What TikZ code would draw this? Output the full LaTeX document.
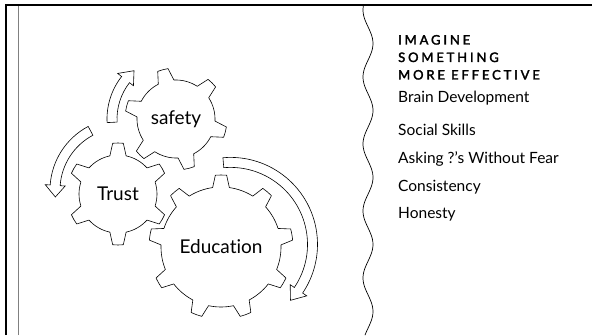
\documentclass[tikz,border=0pt]{standalone}
\usepackage{fontspec}
\setmainfont[Ligatures={TeX,NoCommon}]{Lato}
\newfontfamily\headfont[LetterSpace=22, FakeBold=2.5]{Lato}

% #1 centre, #2 teeth, #3 root radius, #4 tip radius, #5 first tooth, #6 half base angle, #7 half tip angle
\newcommand{\drawgear}[7]{%
  \draw[gearshape] ([shift={(#1)}] {#5-#6}:#3)
    \foreach \k [evaluate=\k as \a using #5+(\k-1)*360/#2] in {1,...,#2} {
      -- ([shift={(#1)}] {\a-#7}:#4) arc[start angle=\a-#7, end angle=\a+#7, radius=#4]
      -- ([shift={(#1)}] {\a+#6}:#3) arc[start angle=\a+#6, end angle=\a+360/#2-#6, radius=#3]
    } -- cycle;}

% #1 centre, #2 radius, #3 tail angle, #4 head base angle, #5 tip angle
\newcommand{\drawbent}[5]{%
  \draw[bentshape] ([shift={(#1)}] #3:{#2+5}) arc[start angle=#3, end angle=#4, radius=#2+5]
    -- ([shift={(#1)}] #4:{#2+10}) -- ([shift={(#1)}] #5:#2)
    -- ([shift={(#1)}] #4:{#2-10}) -- ([shift={(#1)}] #4:{#2-5})
    arc[start angle=#4, end angle=#3, radius=#2-5] -- cycle;}

\begin{document}
\begin{tikzpicture}[x=1pt, y=1pt, line cap=round, line join=round]
  \tikzset{
    gearshape/.style={draw, fill=white, line width=0.6pt},
    bentshape/.style={draw, fill=white, line width=0.6pt, line join=miter},
    gearlabel/.style={font=\fontsize{19}{21}\selectfont},
    heading/.style={anchor=base west, inner sep=0pt, font=\headfont\fontsize{13}{15}\selectfont},
    listitem/.style={anchor=base west, inner sep=0pt, font=\fontsize{15.5}{17}\selectfont}
  }
  \useasboundingbox (0,0) rectangle (592,335);

  % frame
  \draw[line width=2pt, line cap=butt, line join=miter] (6,0) -- (6,329.5) -- (592,329.5);
  \draw[gray, line width=1.5pt, line cap=butt] (18.5,0) -- (18.5,328.5);
  \draw[line width=0.7pt, smooth, samples=160] plot[domain=5:335] ({368-5*cos((\x-10)/67*360)}, {335-\x});

  % gears
  \coordinate (safetyc) at (176,216);
  \coordinate (trustc) at (118,141);
  \coordinate (educationc) at (221,88);
  \drawgear{safetyc}{6}{39}{51}{105}{12}{6}
  \drawgear{trustc}{6}{39}{51}{90}{12}{6}
  \drawgear{educationc}{9}{60}{72}{90}{8}{4.5}
  \node[gearlabel] (safety) at (safetyc) {safety};
  \node[gearlabel] (trust) at (trustc) {Trust};
  \node[gearlabel] (education) at (educationc) {Education};

  % arrows
  \drawbent{safetyc}{64}{183}{142}{131}
  \drawbent{122,145}{67}{118}{176}{186}
  \drawbent{230.5,90.6}{82}{95}{-34}{-43}

  % list
  \node[heading] (head1) at (398,290.5) {IMAGINE};
  \node[heading] (head2) at (398,273) {SOMETHING};
  \node[heading] (head3) at (398,255.5) {MORE EFFECTIVE};
  \foreach \t/\y [count=\i] in {Brain Development/232, Social Skills/199.5, {Asking ?'s Without Fear}/171.5, Consistency/143.5, Honesty/116}
    \node[listitem] (item\i) at (398,\y) {\t};
\end{tikzpicture}
\end{document}
